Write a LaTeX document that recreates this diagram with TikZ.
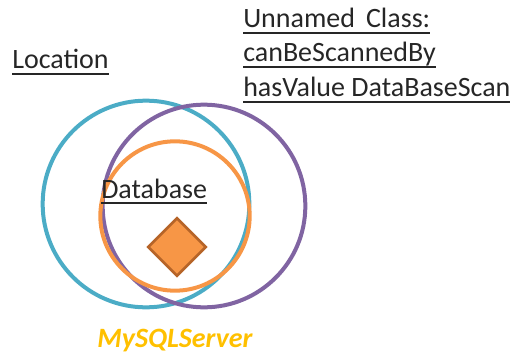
\documentclass[tikz,border=0pt]{standalone}
\usepackage{fontspec}
\setmainfont{Carlito}
\usetikzlibrary{shapes.geometric}

\definecolor{loccyan}{RGB}{75,172,198}
\definecolor{scanpurple}{RGB}{128,100,162}
\definecolor{dborange}{RGB}{247,150,70}
\definecolor{dbdark}{RGB}{182,100,40}
\definecolor{servergold}{RGB}{255,192,0}

% underlined class name
\newcommand{\classname}[1]{\setbox0\hbox{#1}\rlap{\rule[-4.4pt]{\wd0}{1.3pt}}\box0}

\tikzset{
  classring/.style={circle, draw, line width=3pt, inner sep=0pt},
  classlabel/.style={inner sep=0pt, font=\fontsize{21}{26}\selectfont, text=black!85},
}

\begin{document}
\begin{tikzpicture}[x=0.75pt, y=-0.75pt]
			\useasboundingbox (0,0) rectangle (516,356);
			%Class rings
			\node[classring, draw=loccyan, minimum size=155pt] (loc) at (146,204) {};
			\node[classring, draw=scanpurple, minimum size=152pt] (scan) at (204,206) {};
			\node[classring, draw=dborange, minimum size=112pt] (db) at (175,216) {};
			%Individual
			\node[diamond, fill=dborange, draw=dbdark, line width=2pt, minimum size=44pt, inner sep=0pt] (server) at (177,247) {};
			%Labels
			\node[classlabel, anchor=base west] (loclabel) at (12,69) {\classname{Location}};
			\node[classlabel, anchor=base west] (dblabel) at (101,198) {\classname{Database}};
			\node[classlabel, anchor=base west] (scanlabel1) at (243,28) {\classname{Unnamed\ \,Class:}};
			\node[classlabel, anchor=base west] (scanlabel2) at (243,62) {\classname{canBeScannedBy}};
			\node[classlabel, anchor=base west] (scanlabel3) at (243,97) {\classname{hasValue DataBaseScan}};
			\node[classlabel, anchor=base, text=servergold, font=\fontsize{21}{26}\selectfont\bfseries\itshape] (serverlabel) at (175,347) {MySQLServer};
		\end{tikzpicture}
\end{document}
